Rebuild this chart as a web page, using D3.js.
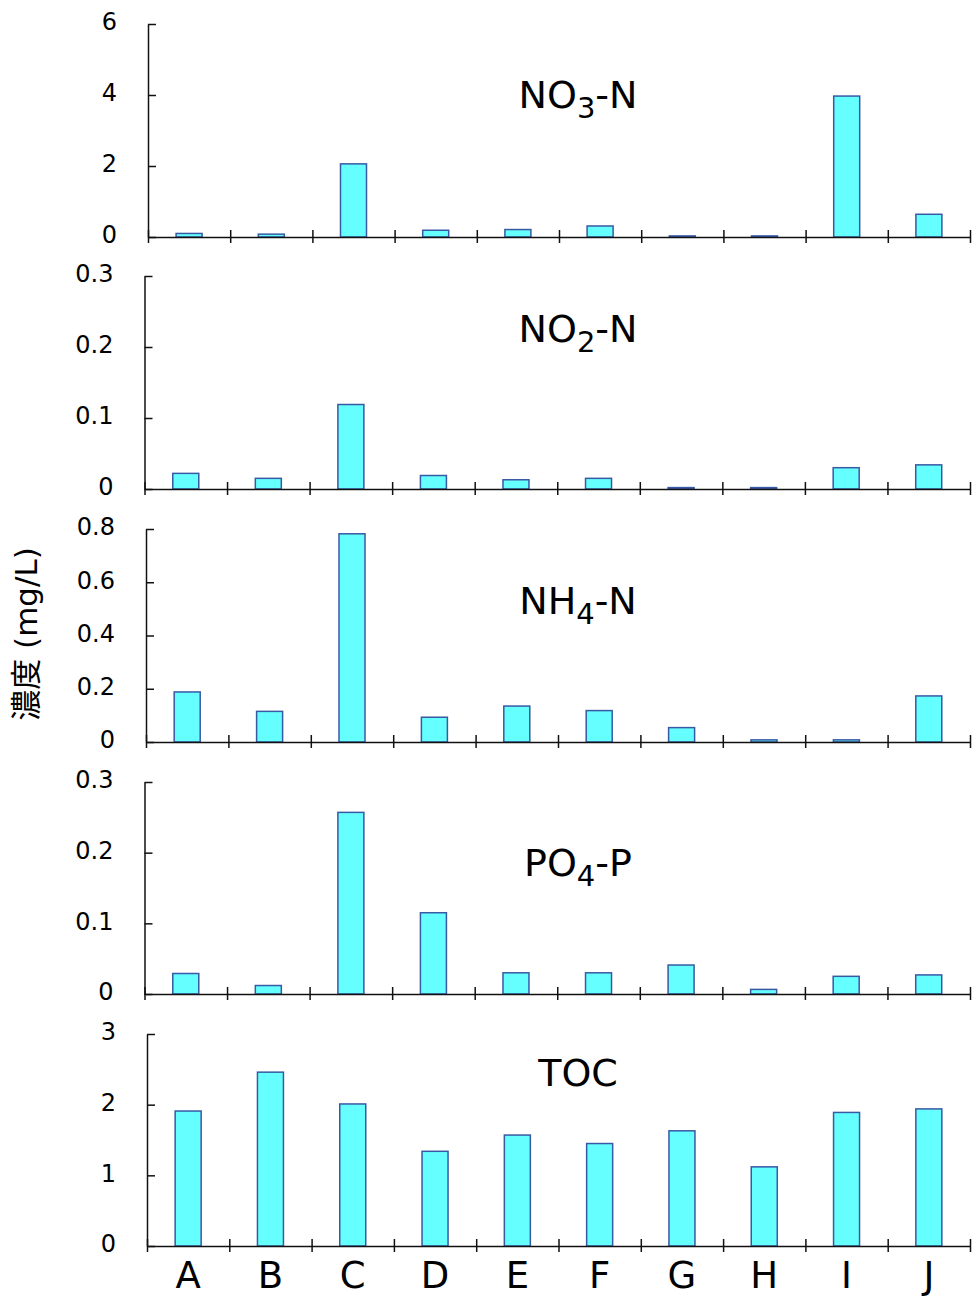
<!DOCTYPE html>
<html>
<head>
<meta charset="utf-8">
<script src="https://cdn.jsdelivr.net/npm/d3@7"></script>
<style>
  body { margin: 0; background: #fff; }
  text { font-family: 'DejaVu Sans', 'Noto Sans CJK JP', sans-serif; fill: #000; }
</style>
</head>
<body>
<div id="canvas"></div>
<script>
'use strict';

const categories = ['A', 'B', 'C', 'D', 'E', 'F', 'G', 'H', 'I', 'J'];

const no3Values = [0.10, 0.08, 2.06, 0.19, 0.21, 0.31, 0.03, 0.03, 3.97, 0.64];
const no2Values = [0.022, 0.015, 0.119, 0.019, 0.013, 0.015, 0.002, 0.002, 0.030, 0.034];
const nh4Values = [0.188, 0.115, 0.782, 0.093, 0.135, 0.118, 0.054, 0.008, 0.008, 0.173];
const po4Values = [0.029, 0.012, 0.257, 0.115, 0.030, 0.030, 0.041, 0.0065, 0.025, 0.027];
const tocValues = [1.91, 2.46, 2.01, 1.34, 1.57, 1.45, 1.63, 1.12, 1.89, 1.94];

const no3Ticks = [0, 2, 4, 6];
const no2Ticks = [0, 0.1, 0.2, 0.3];
const nh4Ticks = [0, 0.2, 0.4, 0.6, 0.8];
const po4Ticks = [0, 0.1, 0.2, 0.3];
const tocTicks = [0, 1, 2, 3];

// Each title is [main, subscript, rest].
const no3Title = ['NO', '3', '-N'];
const no2Title = ['NO', '2', '-N'];
const nh4Title = ['NH', '4', '-N'];
const po4Title = ['PO', '4', '-P'];
const tocTitle = ['TOC', '', ''];

const yAxisLabel = '濃度 (mg/L)';

const width = 979;
const height = 1297;
const rightEdge = 970;
const barWidth = 26;

// Panel frames: y of the top tick, y of zero, x of the y-axis, title baseline.
const panels = [
  {values: no3Values, ticks: no3Ticks, title: no3Title, top: 24, zero: 237, left: 148, titleY: 108},
  {values: no2Values, ticks: no2Ticks, title: no2Title, top: 276, zero: 489, left: 144.5, titleY: 342},
  {values: nh4Values, ticks: nh4Ticks, title: nh4Title, top: 529, zero: 742, left: 146, titleY: 614},
  {values: po4Values, ticks: po4Ticks, title: po4Title, top: 782, zero: 994, left: 144.5, titleY: 876},
  {values: tocValues, ticks: tocTicks, title: tocTitle, top: 1034, zero: 1246, left: 147, titleY: 1086},
];

const svg = d3.select('#canvas').append('svg')
    .attr('width', width)
    .attr('height', height);

function drawPanel(panel, isLast) {
  const g = svg.append('g');
  const y = d3.scaleLinear()
      .domain([0, d3.max(panel.ticks)])
      .range([panel.zero, panel.top]);
  // Padding chosen so every bar is barWidth wide and centred in its slot.
  const pad = 1 - barWidth / ((rightEdge - panel.left) / categories.length);
  const band = d3.scaleBand()
      .domain(categories)
      .range([panel.left, rightEdge])
      .paddingInner(pad)
      .paddingOuter(pad / 2);
  const boundary = d3.scaleLinear()
      .domain([0, categories.length])
      .range([panel.left, rightEdge]);

  // Bars first so the axis line sits on top.
  g.selectAll('rect.bar')
      .data(panel.values)
      .enter()
      .append('rect')
      .attr('class', 'bar')
      .attr('x', (d, i) => band(categories[i]))
      .attr('y', d => y(d))
      .attr('width', band.bandwidth())
      .attr('height', d => y(0) - y(d))
      .attr('fill', '#66ffff')
      .attr('stroke', '#3859a4')
      .attr('stroke-width', 1.5);

  // y-axis, ticks pointing inward.
  const yAxis = g.append('g')
      .attr('transform', `translate(${panel.left},0)`)
      .call(d3.axisLeft(y)
          .tickValues(panel.ticks)
          .tickFormat(d => String(d))
          .tickSizeInner(-8)
          .tickSizeOuter(0)
          .tickPadding(31));
  yAxis.select('.domain').attr('stroke', '#111').attr('stroke-width', 1.5);
  yAxis.selectAll('.tick line').attr('stroke', '#111').attr('stroke-width', 1.5);
  yAxis.selectAll('.tick text')
      .attr('font-size', 24)
      .attr('font-family', null)
      .attr('dy', '0.24em');

  // x-axis, ticks at the category boundaries crossing the line.
  const xAxis = g.append('g')
      .attr('transform', `translate(0,${panel.zero})`)
      .call(d3.axisBottom(boundary)
          .tickValues(d3.range(categories.length + 1))
          .tickFormat('')
          .tickSizeOuter(0));
  xAxis.select('.domain').attr('stroke', '#111').attr('stroke-width', 1.5);
  xAxis.selectAll('.tick line')
      .attr('y1', -7)
      .attr('y2', 6)
      .attr('stroke', '#111')
      .attr('stroke-width', 1.5);

  if (isLast) {
    g.selectAll('text.cat')
        .data(categories)
        .enter()
        .append('text')
        .attr('class', 'cat')
        .attr('x', d => band(d) + band.bandwidth() / 2)
        .attr('y', 1288)
        .attr('text-anchor', 'middle')
        .attr('font-size', 37)
        .text(d => d);
  }

  const [main, sub, rest] = panel.title;
  const title = g.append('text')
      .attr('x', 578)
      .attr('y', panel.titleY)
      .attr('text-anchor', 'middle')
      .attr('font-size', 38);
  title.append('tspan').text(main);
  if (sub) {
    title.append('tspan').attr('font-size', 29).attr('dy', 10).text(sub);
    title.append('tspan').attr('dy', -10).text(rest);
  }
}

panels.forEach((panel, i) => drawPanel(panel, i === panels.length - 1));

svg.append('text')
    .attr('transform', 'translate(26,634) rotate(-90)')
    .attr('text-anchor', 'middle')
    .attr('dominant-baseline', 'central')
    .attr('font-size', 31)
    .text(yAxisLabel);
</script>
</body>
</html>
